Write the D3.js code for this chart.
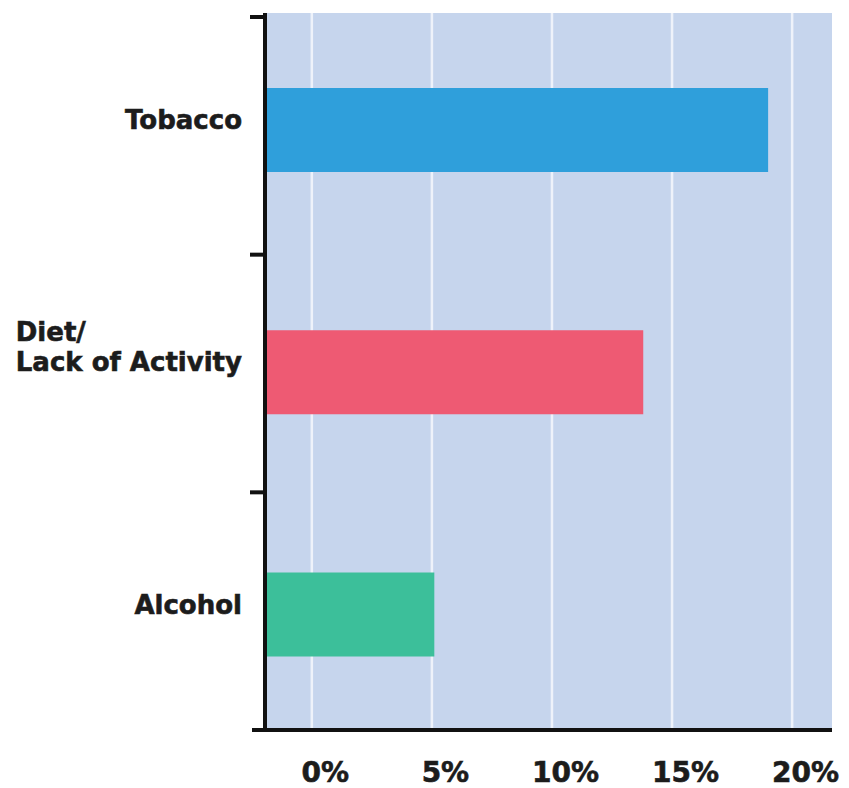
<!DOCTYPE html>
<html>
<head>
<meta charset="utf-8">
<script src="https://cdn.jsdelivr.net/npm/d3@7"></script>
<style>
  html, body { margin: 0; padding: 0; background: #ffffff; }
  svg { display: block; }
  text { font-family: "DejaVu Sans", Verdana, sans-serif; font-weight: bold; fill: #1c1c1c; stroke: #1c1c1c; stroke-width: 0.6px; }
</style>
</head>
<body>
<svg id="chart" width="849" height="788"></svg>
<script>
const categories = ["Tobacco", "Diet/\nLack of Activity", "Alcohol"];
const values = [19.0, 13.8, 5.1];
const barColors = ["#2f9fdb", "#ee5a73", "#3cbf9a"];
const tickValues = [0, 5, 10, 15, 20];
const tickLabels = ["0%", "5%", "10%", "15%", "20%"];

const svg = d3.select("#chart");
const plot = { left: 265, right: 832, top: 13, bottom: 730 };

const x = d3.scaleLinear().domain([-1.95, 21.66]).range([plot.left, plot.right]);
const yBand = d3.scaleBand().domain(categories).range([17, plot.bottom]).paddingInner(0).paddingOuter(0);
const yBar = d3.scalePoint().domain(categories).range([130, 614.5]);
const barH = 84;

// background
svg.append("rect")
  .attr("x", plot.left).attr("y", plot.top)
  .attr("width", plot.right - plot.left).attr("height", plot.bottom - plot.top)
  .attr("fill", "#c6d5ed");

// gridlines
svg.append("g").selectAll("line").data(tickValues).join("line")
  .attr("x1", d => x(d)).attr("x2", d => x(d))
  .attr("y1", plot.top).attr("y2", plot.bottom)
  .attr("stroke", "#eef2fa").attr("stroke-width", 2.5);

// bars
svg.append("g").selectAll("rect").data(categories).join("rect")
  .attr("x", x(-1.95))
  .attr("y", d => yBar(d) - barH / 2)
  .attr("width", (d, i) => x(values[i]) - x(-1.95))
  .attr("height", barH)
  .attr("fill", (d, i) => barColors[i]);

// x axis (labels)
const xAxis = d3.axisBottom(x).tickValues(tickValues)
  .tickFormat((d, i) => tickLabels[i]).tickSize(0);
const gx = svg.append("g").attr("transform", `translate(0,${plot.bottom})`).call(xAxis);
gx.select(".domain").remove();
gx.selectAll("text")
  .attr("dx", 13).attr("y", 0).attr("dy", 52)
  .style("font-size", "28px").style("font-family", "'DejaVu Sans', Verdana, sans-serif")
  .style("font-weight", "bold").attr("fill", "#1c1c1c");

// x axis line
svg.append("line")
  .attr("x1", 252).attr("x2", plot.right)
  .attr("y1", plot.bottom).attr("y2", plot.bottom)
  .attr("stroke", "#111").attr("stroke-width", 4);

// y axis line and ticks at band boundaries
svg.append("line")
  .attr("x1", plot.left).attr("x2", plot.left)
  .attr("y1", plot.top).attr("y2", plot.bottom + 2)
  .attr("stroke", "#111").attr("stroke-width", 4);

const boundaries = categories.map(c => yBand(c));
svg.append("g").selectAll("line").data(boundaries).join("line")
  .attr("x1", 250).attr("x2", plot.left)
  .attr("y1", d => d).attr("y2", d => d)
  .attr("stroke", "#111").attr("stroke-width", 4);

// category labels
const labelX = 242;
categories.forEach((c, i) => {
  const lines = c.split("\n");
  const baseY = yBar(c) - 1;
  const g = svg.append("g");
  const lineH = 30;
  const texts = lines.map((ln, j) => g.append("text")
    .attr("x", labelX)
    .attr("y", baseY - (lines.length - 1 - j) * lineH)
    .attr("text-anchor", "end")
    .style("font-size", "26px")
    .text(ln));
  if (lines.length > 1) {
    const widths = texts.map(t => t.node().getComputedTextLength());
    const maxW = d3.max(widths);
    texts.forEach(t => t.attr("text-anchor", "start").attr("x", labelX - maxW));
  }
});
</script>
</body>
</html>
